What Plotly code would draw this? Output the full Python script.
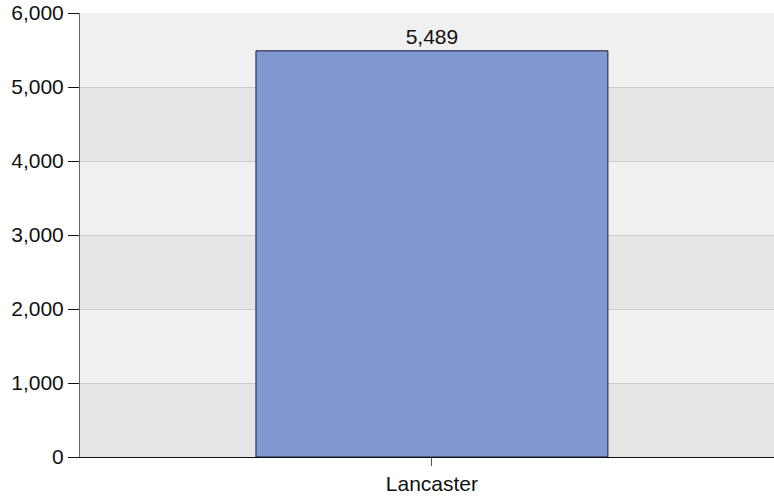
import plotly.graph_objects as go

categories = ["Lancaster"]
values = [5489]
band_edges = [0, 1000, 2000, 3000, 4000, 5000, 6000]
band_colors = ["#e6e6e6", "#f0f0f0"]

FONT = "Arial, Liberation Sans, sans-serif"

fig = go.Figure()
fig.add_trace(go.Bar(
    x=categories, y=values, width=0.5,
    marker=dict(color="#8097cf", line=dict(color="#1a1a3a", width=1)),
    text=[f"{v:,}" for v in values], textposition="outside",
    textfont=dict(family=FONT, size=21, color="#111"),
    cliponaxis=False,
))

for i in range(len(band_edges) - 1):
    fig.add_shape(type="rect", xref="paper", yref="y", x0=0, x1=1,
                  y0=band_edges[i], y1=band_edges[i + 1],
                  fillcolor=band_colors[i % 2], line=dict(width=0), layer="below")

fig.update_layout(
    width=774, height=502,
    margin=dict(l=80, r=0, t=13, b=45, autoexpand=False),
    paper_bgcolor="white", plot_bgcolor="#f0f0f0",
    showlegend=False,
    font=dict(family=FONT, size=21, color="#111"),
)
fig.update_xaxes(range=[-0.5, 0.486], showgrid=False, showline=True, linecolor="#111",
                 linewidth=1, ticks="outside", ticklen=8, tickcolor="#555",
                 tickfont=dict(size=21), automargin=False)
fig.update_yaxes(range=[0, 6000], dtick=1000, tickformat=",", showgrid=True,
                 gridcolor="#cccccc", gridwidth=1, showline=True, linecolor="#666",
                 linewidth=1, ticks="outside", ticklen=11, tickcolor="#111",
                 zeroline=False, tickfont=dict(size=21), automargin=False)

fig.write_html("out.html", config={"displayModeBar": False},
               post_script="document.body.style.margin='0';")
